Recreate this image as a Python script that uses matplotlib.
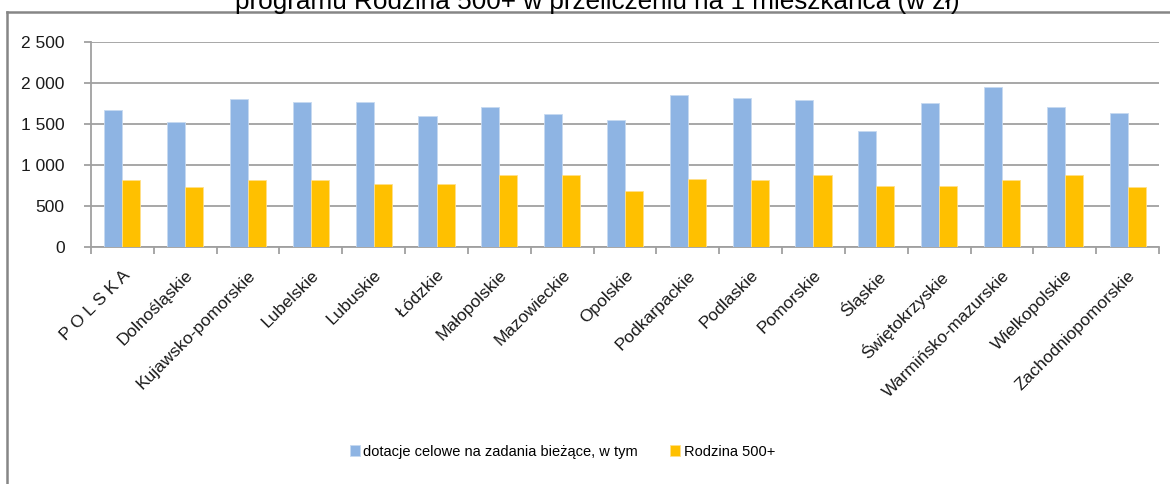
import matplotlib
matplotlib.use("Agg")
import matplotlib.pyplot as plt
import numpy as np
from matplotlib.lines import Line2D
from matplotlib.ticker import FuncFormatter, MultipleLocator

regions = ["P O L S K A", "Dolnośląskie", "Kujawsko-pomorskie", "Lubelskie", "Lubuskie",
           "Łódzkie", "Małopolskie", "Mazowieckie", "Opolskie", "Podkarpackie",
           "Podlaskie", "Pomorskie", "Śląskie", "Świętokrzyskie", "Warmińsko-mazurskie",
           "Wielkopolskie", "Zachodniopomorskie"]
dotacje = [1670, 1522, 1804, 1771, 1771, 1603, 1706, 1620, 1554, 1857,
           1824, 1792, 1420, 1755, 1958, 1706, 1636]
rodzina = [812, 730, 810, 810, 764, 764, 881, 881, 678, 832,
           816, 881, 747, 747, 816, 881, 730]
series_names = ["dotacje celowe na zadania bieżące, w tym", "Rodzina 500+"]
title = "programu Rodzina 500+ w przeliczeniu na 1 mieszkańca (w zł)"

fam = ["Liberation Sans", "DejaVu Sans"]

W, H = 1170, 484
fig = plt.figure(figsize=(W / 100, H / 100), dpi=100)
ax = fig.add_axes([91 / W, 1 - 246.7 / H, (1159 - 91) / W, (246.7 - 42.3) / H])

x = np.arange(len(regions))
bw = 0.287
c_blue = "#8EB4E3"
c_yel = "#FFC000"
ax.bar(x - bw / 2, dotacje, bw, color=c_blue, edgecolor="#C6D9F1", linewidth=0.6,
       label=series_names[0], zorder=3)
ax.bar(x + bw / 2, rodzina, bw, color=c_yel, edgecolor="#FFE08A", linewidth=0.6,
       label=series_names[1], zorder=3)

ax.set_xlim(-0.5, len(regions) - 0.5)
ax.set_ylim(0, 2500)
ax.yaxis.set_major_locator(MultipleLocator(500))
ax.yaxis.set_major_formatter(FuncFormatter(lambda v, p: f"{int(v):,}".replace(",", " ")))
gc = "#A0A0A0"
ax.grid(axis="y", color=gc, linewidth=1.3, zorder=0)
for s in ["top", "right"]:
    ax.spines[s].set_visible(False)
for s in ["left", "bottom"]:
    ax.spines[s].set_color(gc)
    ax.spines[s].set_linewidth(1.3)

ax.set_xticks(np.arange(len(regions) + 1) - 0.5)
ax.set_xticklabels([])
ax.set_xticks(x, minor=True)
ax.set_xticklabels(regions, minor=True, rotation=45, ha="right", va="top",
                   rotation_mode="anchor", fontsize=12.5, family=fam, color="#1A1A1A")
ax.tick_params(axis="x", which="minor", length=0, pad=15)
ax.tick_params(axis="x", which="major", length=5, color=gc, width=1.3)
ax.tick_params(axis="y", length=5, color=gc, width=1.3, pad=14)
for lab in ax.get_yticklabels():
    lab.set_family(fam)
    lab.set_fontsize(12.5)
    lab.set_color("#1A1A1A")

fig.text(597 / W, 1 - 9.5 / H, title, ha="center", va="baseline", fontsize=18.8,
         family=fam, color="#000000")

fc = "#868686"
fig.add_artist(Line2D([7 / W, 1], [1 - 11.5 / H, 1 - 11.5 / H], color=fc, linewidth=1.8,
                      transform=fig.transFigure))
fig.add_artist(Line2D([7 / W, 7 / W], [0, 1 - 11.5 / H], color=fc, linewidth=1.8,
                      transform=fig.transFigure))

fig.legend(loc="center", bbox_to_anchor=((357 + 768) / 2 / W, 1 - 451.7 / H), ncol=2,
           frameon=False, handlelength=0.7, handleheight=0.7, handletextpad=0.25,
           columnspacing=2.2, prop={"family": fam, "size": 10.5})

fig.savefig("out.png", dpi=100)
